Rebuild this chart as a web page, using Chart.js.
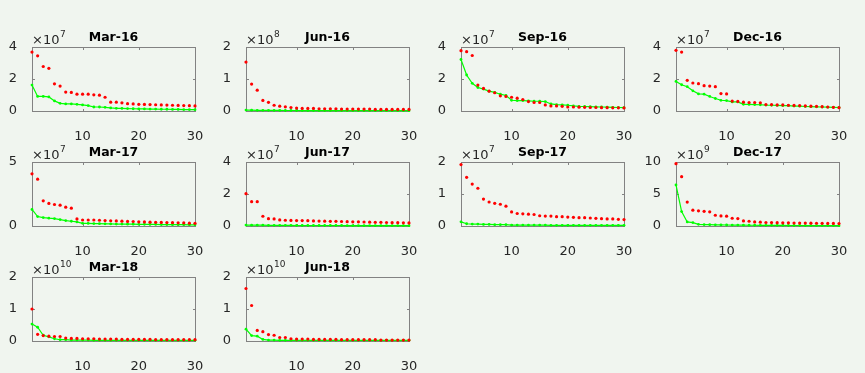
<!DOCTYPE html>
<html>
<head>
<meta charset="utf-8">
<script src="https://cdn.jsdelivr.net/npm/chart.js@4"></script>
<style>
  html, body { margin: 0; padding: 0; background: #f0f5ef; }
  body { width: 865px; height: 373px; position: relative; overflow: hidden; }
  canvas { position: absolute; }
</style>
</head>
<body>
<script>
// x = rank 1..30 for every panel
const ranks = Array.from({ length: 30 }, (_, i) => i + 1)
const xTicks = [10, 20, 30]

const titles = ['Mar-16', 'Jun-16', 'Sep-16', 'Dec-16', 'Mar-17', 'Jun-17', 'Sep-17', 'Dec-17', 'Mar-18', 'Jun-18']
const exponents = [7, 8, 7, 7, 7, 7, 7, 9, 10, 10]
const yMax = [4, 2, 4, 4, 5, 4, 2, 10, 2, 2]
const yStep = [2, 1, 2, 2, 5, 2, 1, 5, 1, 1]

// values are in units of 10^exponent
const mar16Red = [3.68, 3.45, 2.78, 2.67, 1.70, 1.56, 1.18, 1.16, 1.05, 1.05, 1.05, 1.01, 0.99, 0.86, 0.55, 0.55, 0.51, 0.46, 0.44, 0.42, 0.41, 0.40, 0.39, 0.38, 0.37, 0.36, 0.35, 0.34, 0.33, 0.32]
const mar16Green = [1.62, 0.91, 0.91, 0.88, 0.63, 0.48, 0.44, 0.44, 0.42, 0.38, 0.34, 0.25, 0.25, 0.23, 0.19, 0.17, 0.16, 0.15, 0.14, 0.13, 0.13, 0.12, 0.12, 0.11, 0.11, 0.10, 0.10, 0.09, 0.09, 0.08]
const jun16Red = [1.53, 0.84, 0.65, 0.33, 0.27, 0.18, 0.15, 0.13, 0.11, 0.09, 0.08, 0.08, 0.08, 0.07, 0.07, 0.07, 0.07, 0.06, 0.06, 0.06, 0.06, 0.06, 0.06, 0.05, 0.05, 0.05, 0.05, 0.05, 0.05, 0.05]
const jun16Green = [0.03, 0.025, 0.02, 0.02, 0.02, 0.018, 0.017, 0.016, 0.015, 0.015, 0.014, 0.014, 0.013, 0.013, 0.012, 0.012, 0.012, 0.011, 0.011, 0.011, 0.01, 0.01, 0.01, 0.01, 0.01, 0.01, 0.01, 0.01, 0.01, 0.01]
const sep16Red = [3.77, 3.71, 3.47, 1.62, 1.41, 1.24, 1.14, 0.95, 0.91, 0.86, 0.80, 0.72, 0.59, 0.53, 0.53, 0.38, 0.32, 0.32, 0.29, 0.25, 0.25, 0.24, 0.23, 0.22, 0.22, 0.21, 0.21, 0.20, 0.20, 0.19]
const sep16Green = [3.22, 2.25, 1.73, 1.47, 1.37, 1.24, 1.16, 1.05, 0.97, 0.67, 0.65, 0.65, 0.63, 0.61, 0.61, 0.59, 0.44, 0.40, 0.38, 0.36, 0.32, 0.29, 0.28, 0.27, 0.26, 0.25, 0.24, 0.23, 0.22, 0.21]
const dec16Red = [3.79, 3.68, 1.92, 1.75, 1.71, 1.58, 1.56, 1.52, 1.09, 1.07, 0.62, 0.60, 0.55, 0.53, 0.53, 0.51, 0.40, 0.40, 0.38, 0.38, 0.36, 0.35, 0.34, 0.32, 0.30, 0.29, 0.27, 0.25, 0.23, 0.21]
const dec16Green = [1.85, 1.64, 1.52, 1.26, 1.07, 1.05, 0.91, 0.78, 0.67, 0.65, 0.57, 0.57, 0.42, 0.41, 0.40, 0.39, 0.37, 0.36, 0.35, 0.34, 0.33, 0.31, 0.30, 0.28, 0.27, 0.26, 0.25, 0.24, 0.23, 0.22]
const mar17Red = [4.08, 3.66, 1.97, 1.76, 1.68, 1.63, 1.47, 1.39, 0.55, 0.47, 0.47, 0.47, 0.45, 0.42, 0.41, 0.40, 0.38, 0.36, 0.35, 0.33, 0.32, 0.30, 0.29, 0.28, 0.27, 0.26, 0.25, 0.24, 0.22, 0.21]
const mar17Green = [1.29, 0.74, 0.66, 0.61, 0.58, 0.50, 0.42, 0.37, 0.32, 0.21, 0.20, 0.19, 0.18, 0.17, 0.16, 0.15, 0.15, 0.14, 0.14, 0.13, 0.13, 0.12, 0.12, 0.11, 0.11, 0.10, 0.10, 0.10, 0.09, 0.09]
const jun17Red = [2.02, 1.52, 1.52, 0.61, 0.46, 0.44, 0.38, 0.36, 0.35, 0.34, 0.34, 0.33, 0.32, 0.31, 0.30, 0.29, 0.29, 0.28, 0.27, 0.26, 0.26, 0.25, 0.24, 0.23, 0.23, 0.22, 0.21, 0.21, 0.20, 0.19]
const jun17Green = [0.06, 0.05, 0.05, 0.05, 0.04, 0.04, 0.04, 0.04, 0.04, 0.03, 0.03, 0.03, 0.03, 0.03, 0.03, 0.03, 0.03, 0.03, 0.02, 0.02, 0.02, 0.02, 0.02, 0.02, 0.02, 0.02, 0.02, 0.02, 0.02, 0.02]
const sep17Red = [1.92, 1.52, 1.31, 1.18, 0.84, 0.75, 0.71, 0.68, 0.62, 0.44, 0.39, 0.38, 0.37, 0.36, 0.32, 0.31, 0.31, 0.29, 0.29, 0.28, 0.27, 0.26, 0.26, 0.25, 0.24, 0.23, 0.22, 0.22, 0.21, 0.20]
const sep17Green = [0.13, 0.07, 0.06, 0.06, 0.05, 0.05, 0.04, 0.04, 0.04, 0.03, 0.03, 0.03, 0.03, 0.03, 0.03, 0.03, 0.02, 0.02, 0.02, 0.02, 0.02, 0.02, 0.02, 0.02, 0.02, 0.02, 0.02, 0.02, 0.02, 0.02]
const dec17Red = [9.74, 7.70, 3.74, 2.47, 2.37, 2.30, 2.21, 1.68, 1.58, 1.53, 1.21, 1.16, 0.80, 0.74, 0.63, 0.60, 0.55, 0.53, 0.52, 0.50, 0.49, 0.47, 0.46, 0.45, 0.44, 0.43, 0.42, 0.41, 0.40, 0.38]
const dec17Green = [6.42, 2.25, 0.63, 0.53, 0.26, 0.22, 0.20, 0.18, 0.17, 0.16, 0.15, 0.14, 0.13, 0.12, 0.12, 0.11, 0.10, 0.10, 0.09, 0.09, 0.08, 0.08, 0.08, 0.07, 0.07, 0.07, 0.06, 0.06, 0.06, 0.05]
const mar18Red = [1.00, 0.21, 0.17, 0.15, 0.14, 0.14, 0.09, 0.08, 0.08, 0.07, 0.07, 0.07, 0.06, 0.06, 0.06, 0.06, 0.05, 0.05, 0.05, 0.05, 0.05, 0.05, 0.04, 0.04, 0.04, 0.04, 0.04, 0.04, 0.04, 0.04]
const mar18Green = [0.53, 0.43, 0.18, 0.13, 0.07, 0.04, 0.04, 0.03, 0.03, 0.03, 0.03, 0.02, 0.02, 0.02, 0.02, 0.02, 0.02, 0.02, 0.02, 0.02, 0.02, 0.02, 0.02, 0.02, 0.02, 0.02, 0.02, 0.02, 0.02, 0.02]
const jun18Red = [1.64, 1.11, 0.33, 0.29, 0.20, 0.18, 0.11, 0.11, 0.07, 0.06, 0.06, 0.06, 0.05, 0.05, 0.05, 0.05, 0.05, 0.04, 0.04, 0.04, 0.04, 0.04, 0.04, 0.04, 0.03, 0.03, 0.03, 0.03, 0.03, 0.03]
const jun18Green = [0.37, 0.17, 0.15, 0.05, 0.03, 0.03, 0.02, 0.02, 0.02, 0.02, 0.02, 0.02, 0.02, 0.02, 0.02, 0.02, 0.02, 0.02, 0.02, 0.02, 0.02, 0.02, 0.02, 0.02, 0.02, 0.02, 0.02, 0.02, 0.02, 0.02]

const redSeries = [mar16Red, jun16Red, sep16Red, dec16Red, mar17Red, jun17Red, sep17Red, dec17Red, mar18Red, jun18Red]
const greenSeries = [mar16Green, jun16Green, sep16Green, dec16Green, mar17Green, jun17Green, sep17Green, dec17Green, mar18Green, jun18Green]

// subplot grid (plot area corners)
const colLeft = [32, 246, 461, 676]
const rowTop = [47, 162, 277]
const plotW = 163, plotH = 64
const padL = 32, padT = 47, padR = 12, axisH = 34

const FONT = '"DejaVu Sans", "Liberation Sans", sans-serif'
const textColor = '#262626'
const boxColor = '#828282'

// box, inward ticks, title and x10^n label
const frame = {
  id: 'frame',
  beforeDatasetsDraw(chart) {
    const { ctx, chartArea: a, scales: { x, y } } = chart
    ctx.save()
    ctx.strokeStyle = boxColor
    ctx.lineWidth = 1
    ctx.strokeRect(a.left + 0.5, a.top + 0.5, a.width, a.height)
    ctx.beginPath()
    x.ticks.forEach(t => {
      const px = Math.round(x.getPixelForValue(t.value)) + 0.5
      ctx.moveTo(px, a.bottom); ctx.lineTo(px, a.bottom - 2)
      ctx.moveTo(px, a.top); ctx.lineTo(px, a.top + 3)
    })
    y.ticks.forEach(t => {
      const py = Math.round(y.getPixelForValue(t.value)) + 0.5
      ctx.moveTo(a.left, py); ctx.lineTo(a.left + 3, py)
      ctx.moveTo(a.right, py); ctx.lineTo(a.right - 2, py)
    })
    ctx.stroke()
    ctx.restore()
  },
  afterDraw(chart, args, opts) {
    const { ctx, chartArea: a } = chart
    ctx.save()
    ctx.fillStyle = '#000'
    ctx.font = 'bold 12.5px ' + FONT
    ctx.textAlign = 'center'
    ctx.textBaseline = 'alphabetic'
    ctx.fillText(opts.title, (a.left + a.right) / 2, a.top - 6.5)
    ctx.fillStyle = textColor
    ctx.textAlign = 'left'
    ctx.font = '13px ' + FONT
    ctx.fillText('\u00d710', a.left, a.top - 3.5)
    const w = ctx.measureText('\u00d710').width
    ctx.font = '9px ' + FONT
    ctx.fillText(String(opts.exponent), a.left + w + 0.5, a.top - 10)
    ctx.restore()
  }
}

titles.forEach((title, i) => {
  const col = i % 4, row = Math.floor(i / 4)
  const canvas = document.createElement('canvas')
  canvas.width = padL + plotW + padR
  canvas.height = padT + plotH + axisH
  canvas.style.left = (colLeft[col] - padL) + 'px'
  canvas.style.top = (rowTop[row] - padT) + 'px'
  document.body.appendChild(canvas)

  new Chart(canvas.getContext('2d'), {
    type: 'line',
    data: {
      labels: ranks,
      datasets: [
        {
          data: redSeries[i],
          showLine: false,
          pointRadius: 1.6,
          pointBackgroundColor: '#ff0000',
          pointBorderWidth: 0,
          clip: false
        },
        {
          data: greenSeries[i],
          borderColor: '#00ff00',
          borderWidth: 1.2,
          pointRadius: 1.4,
          pointBackgroundColor: '#00ff00',
          pointBorderWidth: 0,
          tension: 0,
          clip: false
        }
      ]
    },
    options: {
      responsive: false,
      animation: false,
      events: [],
      layout: { padding: { top: padT, right: padR, left: 0, bottom: 0 } },
      plugins: {
        legend: { display: false },
        tooltip: { enabled: false },
        title: { display: false },
        frame: { title: title, exponent: exponents[i] }
      },
      scales: {
        x: {
          type: 'linear',
          min: 1,
          max: 30,
          grid: { display: false },
          border: { display: false },
          afterBuildTicks: s => { s.ticks = xTicks.map(v => ({ value: v })) },
          ticks: { color: textColor, font: { family: FONT, size: 13 }, padding: 10, maxRotation: 0, autoSkip: false },
          afterFit: s => { s.height = axisH; s.paddingLeft = 0; s.paddingRight = 0 }
        },
        y: {
          min: 0,
          max: yMax[i],
          grid: { display: false },
          border: { display: false },
          ticks: { stepSize: yStep[i], color: textColor, font: { family: FONT, size: 13 }, padding: 7 },
          afterFit: s => { s.width = padL; s.paddingTop = 0; s.paddingBottom = 0 }
        }
      }
    },
    plugins: [frame]
  })
})
</script>
</body>
</html>
